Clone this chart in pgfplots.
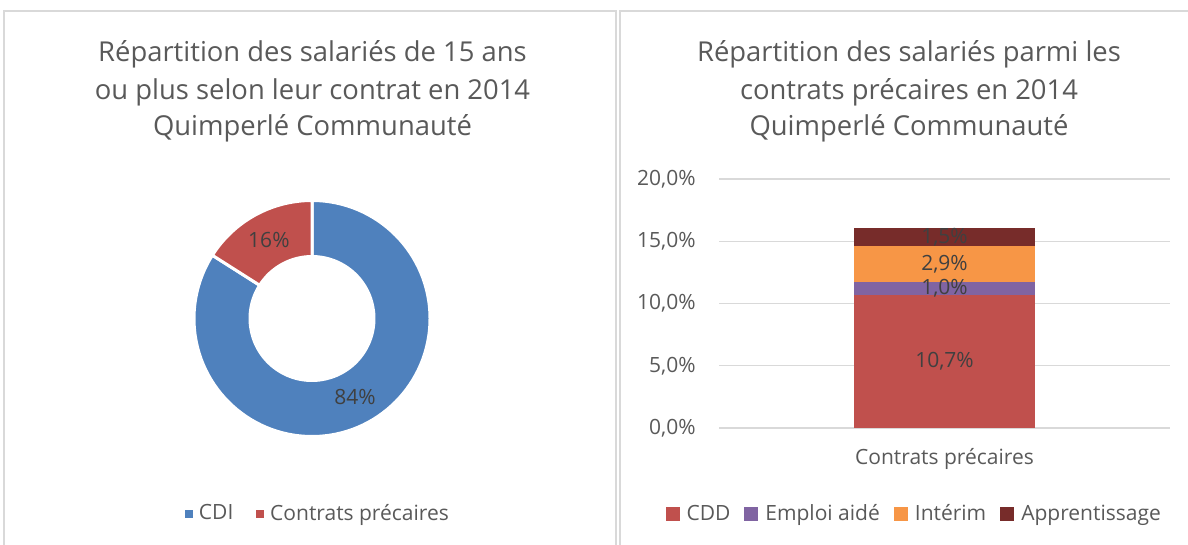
\documentclass[border=0pt]{standalone}
\usepackage{pgfplots}
\pgfplotsset{compat=1.18}
\usepackage{fontspec}
\setmainfont{Open Sans}

\definecolor{cdi}{HTML}{4F81BD}
\definecolor{prec}{HTML}{C0504D}
\definecolor{aide}{HTML}{8064A2}
\definecolor{interim}{HTML}{F79646}
\definecolor{appr}{HTML}{772C2A}
\definecolor{txt}{HTML}{595959}
\definecolor{lbl}{HTML}{404040}
\definecolor{gridc}{HTML}{D9D9D9}

\newcommand{\fs}{\fontsize{10.5}{12}\selectfont}
\pgfplotsset{
  sqlegend/.style={legend image code/.code={\fill[##1] (0pt,-3.5pt) rectangle (7pt,3.5pt);}},
}

% doughnut: share of employees (%)
\def\valCDI{84}
\def\valPrec{16}

\begin{document}
\begin{tikzpicture}[x=0.5pt,y=0.5pt]
\path[use as bounding box] (0,0) rectangle (1188,545);
\clip (0,0) rectangle (1188,545);

% chart frames
\draw[gridc, line width=0.6pt] (4,-10) rectangle (616,534);
\draw[gridc, line width=0.6pt] (620,-10) rectangle (1200,534);

% titles
\begin{scope}[every node/.style={font=\fontsize{13.7}{16}\selectfont, text=txt, anchor=base}]
\node at (312.5,483) {Répartition des salariés de 15 ans};
\node at (312.5,445) {ou plus selon leur contrat en 2014};
\node at (312.5,409) {Quimperlé Communauté};
\node at (909,483) {Répartition des salariés parmi les};
\node at (909,445) {contrats précaires en 2014};
\node at (909,409) {Quimperlé Communauté};
\end{scope}

% ---------- doughnut ----------
\pgfmathsetmacro\angA{90}
\pgfmathsetmacro\angB{90-3.6*\valCDI}
\pgfmathsetmacro\angC{90+3.6*\valPrec}
\pgfmathsetmacro\midCDI{90-1.8*\valCDI}
\pgfmathsetmacro\midPrec{90+1.8*\valPrec}
\begin{axis}[
  at={(156pt,113.25pt)}, anchor=center,
  scale only axis, width=117pt, height=117pt,
  xmin=-1, xmax=1, ymin=-1, ymax=1,
  hide axis, clip=false,
  legend columns=2,
  legend style={at={(0.53,-0.335)}, anchor=center, draw=none, fill=none,
    font=\fs, text=txt,
    /tikz/every odd column/.append style={column sep=1pt},
    /tikz/every even column/.append style={column sep=9.5pt}},
]
\fill[cdi, draw=white, line width=1.5pt] (axis cs:0,0) ++(\angA:59pt)
  arc[start angle=\angA, end angle=\angB, radius=59pt] -- ++(\angB:-28pt)
  arc[start angle=\angB, end angle=\angA, radius=31pt] -- cycle;
\fill[prec, draw=white, line width=1.5pt] (axis cs:0,0) ++(\angC:59pt)
  arc[start angle=\angC, end angle=\angA, radius=59pt] -- ++(\angA:-28pt)
  arc[start angle=\angA, end angle=\angC, radius=31pt] -- cycle;
\node[text=lbl, font=\fs]
  at (axis cs:{0.765*cos(\midCDI)},{0.765*sin(\midCDI)}) {\valCDI\%};
\node[text=lbl, font=\fs]
  at (axis cs:{0.765*cos(\midPrec)},{0.765*sin(\midPrec)}) {\valPrec\%};
\addlegendimage{legend image code/.code={\fill[cdi] (0pt,-1.75pt) rectangle (3.5pt,1.75pt);}}
\addlegendentry{CDI}
\addlegendimage{legend image code/.code={\fill[prec] (0pt,-1.75pt) rectangle (3.5pt,1.75pt);}}
\addlegendentry{Contrats précaires}
\end{axis}

% ---------- stacked bar ----------
\begin{axis}[
  at={(359.5pt,58.5pt)}, anchor=south west,
  scale only axis, width=225.5pt, height=124.5pt,
  ybar stacked, bar width=1,
  xmin=-1.245, xmax=1.245,
  ymin=0, ymax=20, ytick={0,5,10,15,20},
  xtick={0}, xticklabels={Contrats précaires},
  axis line style={draw=none}, tick style={draw=none},
  ymajorgrids, grid style={gridc, line width=0.6pt},
  /pgf/number format/.cd, fixed, fixed zerofill, precision=1, use comma,
    assume math mode=true, /pgfplots/.cd,
  yticklabel={\pgfmathprintnumber{\tick}\%},
  yticklabel style={anchor=east, inner sep=0pt, xshift=-11.5pt,
    font=\fs, text=txt},
  xticklabel style={anchor=base, yshift=-18.5pt, font=\fs, text=txt},
  clip=false,
  legend columns=4, sqlegend,
  legend style={at={(0.435,-0.345)}, anchor=center, draw=none, fill=none,
    font=\fs, text=txt,
    /tikz/every odd column/.append style={column sep=1.5pt},
    /tikz/every even column/.append style={column sep=5pt}},
]
\addplot[fill=prec, draw=none] coordinates {(0,10.7)};
\addlegendentry{CDD}
\addplot[fill=aide, draw=none] coordinates {(0,1.0)};
\addlegendentry{Emploi aidé}
\addplot[fill=interim, draw=none] coordinates {(0,2.9)};
\addlegendentry{Intérim}
\addplot[fill=appr, draw=none] coordinates {(0,1.5)};
\addlegendentry{Apprentissage}
% segment centres for the value labels
\coordinate (lCDD) at (axis cs:0,5.35);
\coordinate (lAide) at (axis cs:0,11.2);
\coordinate (lInt) at (axis cs:0,13.15);
\coordinate (lApp) at (axis cs:0,15.35);
\end{axis}
\begin{scope}[every node/.style={text=lbl, font=\fs}]
\node at (lCDD) {10,7\%};
\node at (lAide) {1,0\%};
\node at (lInt) {2,9\%};
\node at (lApp) {1,5\%};
\end{scope}
\end{tikzpicture}
\end{document}
